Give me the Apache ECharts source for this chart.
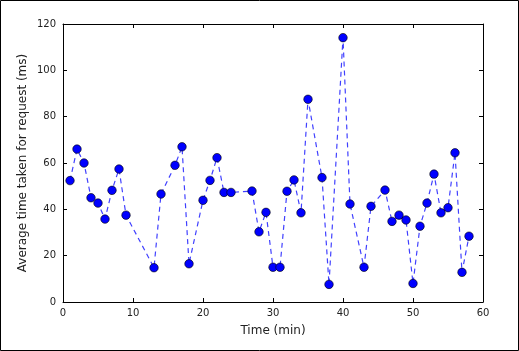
<!DOCTYPE html>
<html>
<head>
<meta charset="utf-8">
<script src="https://cdn.jsdelivr.net/npm/echarts@6/dist/echarts.min.js"></script>
<style>
  html, body { margin: 0; padding: 0; background: #fff; }
  #chart { width: 519px; height: 351px; }
</style>
</head>
<body>
<div id="chart"></div>
<script>
// minutes and average request time (ms)
const minutes = [1, 2, 3, 4, 5, 6, 7, 8, 9, 13, 14, 16, 17, 18, 20, 21, 22, 23, 24, 27, 28, 29, 30, 31, 32, 33, 34, 35, 37, 38, 40, 41, 43, 44, 46, 47, 48, 49, 50, 51, 52, 53, 54, 55, 56, 57, 58]
const avgTime = [52.4, 66, 60, 45, 42.7, 35.8, 48.2, 57.4, 37.5, 14.8, 46.6, 59, 67, 16.5, 43.9, 52.5, 62.3, 47.3, 47.3, 47.9, 30.3, 38.7, 15, 15, 47.8, 52.7, 38.5, 87.5, 53.7, 7.6, 114.1, 42.3, 15, 41.3, 48.3, 34.8, 37.5, 35.4, 8, 32.7, 42.7, 55.2, 38.5, 40.7, 64.4, 12.8, 28.4]
const xTicks = [0, 10, 20, 30, 40, 50, 60]
const yTicks = [0, 20, 40, 60, 80, 100, 120]

const points = minutes.map((m, i) => [m, avgTime[i]])
const font = 'DejaVu Sans'

// axis style shared by all four sides (matplotlib classic look, ticks inside)
const sideAxis = (extra) => Object.assign({
  axisLine: { show: true, onZero: false, lineStyle: { color: '#000', width: 1 } },
  axisTick: { show: true, inside: true, length: 4, lineStyle: { color: '#000' } },
  splitLine: { show: false },
  axisLabel: { show: false }
}, extra)

const chart = echarts.init(document.getElementById('chart'))
chart.setOption({
  animation: false,
  backgroundColor: '#fff',
  grid: { left: 63, right: 36, top: 24, bottom: 49 },
  graphic: [{
    type: 'rect',
    shape: { x: 0.5, y: 0.5, width: 518, height: 350 },
    style: { fill: 'none', stroke: '#000', lineWidth: 1 },
    silent: true
  }],
  xAxis: [
    sideAxis({
      type: 'value', min: xTicks[0], max: xTicks[xTicks.length - 1], interval: 10,
      position: 'bottom',
      name: 'Time (min)', nameLocation: 'middle', nameGap: 23, nameMoveOverlap: false,
      nameTextStyle: { fontFamily: font, fontSize: 12, color: '#222' },
      axisLabel: { show: true, margin: 6, fontFamily: font, fontSize: 10, color: '#222' }
    }),
    sideAxis({ type: 'value', min: 0, max: 60, interval: 10, position: 'top' })
  ],
  yAxis: [
    sideAxis({
      type: 'value', min: yTicks[0], max: yTicks[yTicks.length - 1], interval: 20,
      position: 'left',
      name: 'Average time taken for request (ms)', nameLocation: 'middle', nameGap: 34, nameMoveOverlap: false,
      nameTextStyle: { fontFamily: font, fontSize: 12, color: '#222' },
      axisLabel: { show: true, margin: 7, fontFamily: font, fontSize: 10, color: '#222' }
    }),
    sideAxis({ type: 'value', min: 0, max: 120, interval: 20, position: 'right' })
  ],
  series: [{
    type: 'line',
    data: points,
    symbol: 'circle',
    symbolSize: 8.5,
    itemStyle: { color: '#0000ff', borderColor: '#000', borderWidth: 0.6 },
    lineStyle: { color: '#0000ff', width: 1.2, type: [5, 4], opacity: 0.75 }
  }]
})
</script>
</body>
</html>
